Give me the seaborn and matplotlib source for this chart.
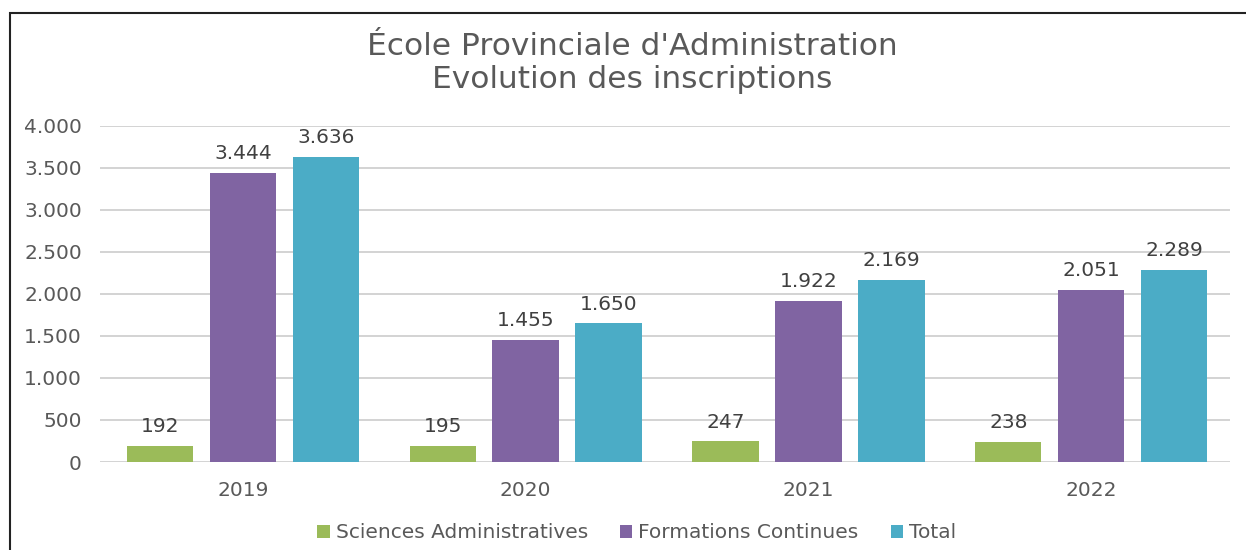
import pandas as pd
import numpy as np
import matplotlib.pyplot as plt
import seaborn as sns
from matplotlib.ticker import FuncFormatter
from matplotlib.patches import Rectangle

# Inscriptions per year
years = ['2019', '2020', '2021', '2022']
series = ['Sciences Administratives', 'Formations Continues', 'Total']
sciences_admin = [192, 195, 247, 238]
formations_continues = [3444, 1455, 1922, 2051]
total = [3636, 1650, 2169, 2289]
colors = ['#9BBB59', '#8064A2', '#4BACC6']

df = pd.DataFrame({
    'Année': years * 3,
    'Série': [s for s in series for _ in years],
    'Inscriptions': sciences_admin + formations_continues + total,
})


def fmt(v, pos=None):
    return f'{int(round(v)):,}'.replace(',', '.')


sns.set_style('white')
plt.rcParams['font.family'] = ['DejaVu Sans']

fig = plt.figure(figsize=(12.46, 5.5), dpi=100)
ax = fig.add_axes([0.0803, 0.16, 0.9067, 0.611])

sns.barplot(data=df, x='Année', y='Inscriptions', hue='Série', order=years,
            hue_order=series, palette=colors, width=0.88, gap=0.2,
            saturation=1, ax=ax, legend=True, edgecolor='none')

for c in ax.containers:
    ax.bar_label(c, labels=[fmt(v) for v in c.datavalues], padding=7,
                 fontsize=14.5, color='#404040')

ax.set_ylim(0, 4000)
ax.set_xlim(-0.505, 3.49)
ax.set_yticks(np.arange(0, 4001, 500))
ax.yaxis.set_major_formatter(FuncFormatter(fmt))
ax.grid(axis='y', color='#D0D0D0', linewidth=1.3)
ax.set_axisbelow(True)
for side in ['top', 'right', 'left', 'bottom']:
    ax.spines[side].set_visible(False)
ax.tick_params(axis='both', length=0, labelsize=14.5, labelcolor='#595959')
ax.tick_params(axis='y', pad=13)
ax.tick_params(axis='x', pad=14)
ax.set_xlabel('')
ax.set_ylabel('')

fig.text(632 / 1246, 1 - 63 / 550,
         "École Provinciale d'Administration\nEvolution des inscriptions",
         ha='center', va='center', fontsize=22.5, color='#595959',
         linespacing=1.2)

handles, labels = ax.get_legend_handles_labels()
ax.legend(handles, labels, loc='center', bbox_to_anchor=(0.475, -0.211),
          ncol=3, frameon=False, fontsize=14.5, labelcolor='#595959',
          handlelength=0.6, handleheight=0.6, handletextpad=0.3,
          columnspacing=1.6)

fig.patches.append(Rectangle((10 / 1246, -0.05), 1.1, 1 - 13 / 550 + 0.05,
                             transform=fig.transFigure, fill=False,
                             edgecolor='#222222', linewidth=1.5))

fig.savefig('out.png', dpi=100)
